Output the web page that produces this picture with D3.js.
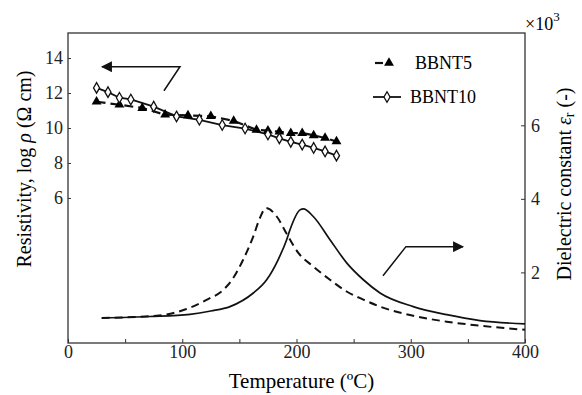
<!DOCTYPE html>
<html>
<head>
<meta charset="utf-8">
<script src="https://cdn.jsdelivr.net/npm/d3@7"></script>
<style>
  body { margin: 0; background: #fff; }
  svg, svg text { font-family: "Liberation Serif", "DejaVu Serif", serif; }
  .axis text { font-size: 18px; fill: #222; }
  .axis path, .axis line { stroke: #333; }
</style>
</head>
<body>
<div id="chart"></div>
<script>
// resistivity (left axis, log rho)
var bbnt5T   = [25, 45, 65, 85, 105, 125, 145, 165, 175, 185, 195, 205, 215, 225, 235];
var bbnt5Rho = [11.50, 11.33, 11.14, 10.76, 10.72, 10.67, 10.41, 9.89, 9.85, 9.79, 9.71, 9.71, 9.58, 9.43, 9.23];
var bbnt10T   = [25, 35, 45, 55, 75, 95, 115, 135, 155, 175, 185, 195, 205, 215, 225, 235];
var bbnt10Rho = [12.29, 12.05, 11.73, 11.63, 11.22, 10.66, 10.47, 10.17, 9.97, 9.63, 9.41, 9.21, 9.05, 8.86, 8.66, 8.42];

// dielectric constant (right axis, x10^3)
var epsT5  = [29.5, 77.6, 102.4, 121.7, 136.5, 145.3, 153.4, 162.2, 168, 173.3, 182.7, 191.4, 201.6, 214.7, 229.3, 243.9, 258.5, 273.1, 302.2, 331.5, 360.6, 400];
var eps5   = [0.76, 0.82, 0.99, 1.26, 1.54, 1.88, 2.35, 2.98, 3.48, 3.75, 3.52, 3.05, 2.53, 2.16, 1.80, 1.48, 1.26, 1.07, 0.82, 0.66, 0.55, 0.44];
var epsT10 = [29.5, 71.8, 106.8, 125, 141.8, 162.2, 173.9, 184, 191.4, 194.3, 203.1, 206, 214.7, 229.3, 243.9, 258.5, 273.1, 302.2, 331.5, 360.6, 400];
var eps10  = [0.76, 0.80, 0.86, 0.95, 1.07, 1.44, 1.80, 2.35, 2.89, 3.16, 3.70, 3.73, 3.52, 2.89, 2.26, 1.80, 1.44, 1.07, 0.85, 0.69, 0.60];

var xTicks = [0, 50, 100, 150, 200, 250, 300, 350, 400];
var xLabels = [0, 100, 200, 300, 400];
var leftTicks = [6, 8, 10, 12, 14];
var rightTicks = [2, 4, 6];

var width = 582, height = 395;
var margin = {top: 33, right: 57, bottom: 52, left: 68};
var serif = "'Liberation Serif', 'DejaVu Serif', serif";

var svg = d3.select("#chart").append("svg")
    .attr("width", width)
    .attr("height", height)
    .attr("font-family", serif);

var x = d3.scaleLinear().domain([0, 400]).range([margin.left, width - margin.right]);
var yL = d3.scaleLinear().domain([-2.29, 15.43]).range([height - margin.bottom, margin.top]);
var yR = d3.scaleLinear().domain([0.08, 8.51]).range([height - margin.bottom, margin.top]);

function zip(a, b) { return a.map(function(d, i) { return [d, b[i]]; }); }

// frame
svg.append("rect")
    .attr("x", margin.left).attr("y", margin.top)
    .attr("width", width - margin.left - margin.right)
    .attr("height", height - margin.top - margin.bottom)
    .attr("fill", "none").attr("stroke", "#333").attr("stroke-width", 1.3);

// x axis: inward ticks every 50, labels every 100
var xAxis = svg.append("g").attr("class", "axis")
    .attr("transform", "translate(0," + (height - margin.bottom) + ")")
    .call(d3.axisBottom(x).tickValues(xTicks).tickSizeInner(-4).tickSizeOuter(0)
        .tickFormat(function(d) { return xLabels.indexOf(d) >= 0 ? d : ""; }));
xAxis.select(".domain").remove();
xAxis.selectAll("text").attr("dy", "0.3em").attr("y", 10);

var lAxis = svg.append("g").attr("class", "axis")
    .attr("transform", "translate(" + margin.left + ",0)")
    .call(d3.axisLeft(yL).tickValues(leftTicks).tickSizeInner(-3).tickSizeOuter(0));
lAxis.select(".domain").remove();
lAxis.selectAll("text").attr("x", -5);

var rAxis = svg.append("g").attr("class", "axis")
    .attr("transform", "translate(" + (width - margin.right) + ",0)")
    .call(d3.axisRight(yR).tickValues(rightTicks).tickSizeInner(-4).tickSizeOuter(0));
rAxis.select(".domain").remove();
rAxis.selectAll("text").attr("x", 6);

svg.selectAll(".axis").attr("font-family", serif).attr("font-size", 18);

// axis titles
svg.append("text")
    .attr("x", (margin.left + width - margin.right) / 2 + 5)
    .attr("y", 388)
    .attr("text-anchor", "middle")
    .style("font-size", "21px")
    .text("Temperature (ºC)");

var lt = svg.append("text")
    .attr("transform", "translate(26," + 169 + ") rotate(-90)")
    .attr("text-anchor", "middle")
    .attr("dominant-baseline", "middle")
    .style("font-size", "20px");
lt.append("tspan").text("Resistivity, log ");
lt.append("tspan").style("font-style", "italic").text("ρ");
lt.append("tspan").text(" (Ω cm)");

var rt = svg.append("text")
    .attr("transform", "translate(566," + 184 + ") rotate(-90)")
    .attr("text-anchor", "middle")
    .attr("dominant-baseline", "middle")
    .style("font-size", "20px");
rt.append("tspan").text("Dielectric constant ");
rt.append("tspan").style("font-style", "italic").text("ε");
rt.append("tspan").attr("dy", 5).style("font-size", "14px").text("r");
rt.append("tspan").attr("dy", -5).text(" (-)");

var mult = svg.append("text").attr("x", 525).attr("y", 30).style("font-size", "18px");
mult.append("tspan").text("×10");
mult.append("tspan").attr("dy", -9).style("font-size", "13px").text("3");

// dielectric curves
var lineR = d3.line().x(function(d) { return x(d[0]); }).y(function(d) { return yR(d[1]); })
    .curve(d3.curveMonotoneX);

svg.append("path").datum(zip(epsT5, eps5))
    .attr("d", lineR).attr("fill", "none").attr("stroke", "#111")
    .attr("stroke-width", 2).attr("stroke-dasharray", "8,5");

svg.append("path").datum(zip(epsT10, eps10))
    .attr("d", lineR).attr("fill", "none").attr("stroke", "#111")
    .attr("stroke-width", 1.7);

// resistivity lines + markers
var lineL = d3.line().x(function(d) { return x(d[0]); }).y(function(d) { return yL(d[1]); });

svg.append("path").datum(zip(bbnt10T, bbnt10Rho))
    .attr("d", lineL).attr("fill", "none").attr("stroke", "#111").attr("stroke-width", 1.8);

svg.append("path").datum(zip(bbnt5T, bbnt5Rho))
    .attr("d", lineL).attr("fill", "none").attr("stroke", "#111")
    .attr("stroke-width", 2.2).attr("stroke-dasharray", "9,5");

var tri = d3.symbol().type(d3.symbolTriangle).size(42);
var dia = d3.symbol().type(d3.symbolDiamond).size(32);

svg.selectAll(".tri").data(zip(bbnt5T, bbnt5Rho)).enter().append("path")
    .attr("class", "tri")
    .attr("transform", function(d) { return "translate(" + x(d[0]) + "," + yL(d[1]) + ")"; })
    .attr("d", tri).attr("fill", "#000");

svg.selectAll(".dia").data(zip(bbnt10T, bbnt10Rho)).enter().append("path")
    .attr("class", "dia")
    .attr("transform", function(d) { return "translate(" + x(d[0]) + "," + yL(d[1]) + ")"; })
    .attr("d", dia).attr("fill", "#fff").attr("stroke", "#111").attr("stroke-width", 1.3);

// legend
var leg = svg.append("g");
leg.append("line").attr("x1", 375).attr("x2", 383).attr("y1", 63).attr("y2", 63)
    .attr("stroke", "#111").attr("stroke-width", 2.2);
leg.append("path").attr("transform", "translate(389,63)").attr("d", tri).attr("fill", "#000");
leg.append("text").attr("x", 415).attr("y", 69).style("font-size", "18px").text("BBNT5");
leg.append("line").attr("x1", 373).attr("x2", 401).attr("y1", 97).attr("y2", 97)
    .attr("stroke", "#111").attr("stroke-width", 1.8);
leg.append("path").attr("transform", "translate(387,97)").attr("d", dia)
    .attr("fill", "#fff").attr("stroke", "#111").attr("stroke-width", 1.3);
leg.append("text").attr("x", 410).attr("y", 103).style("font-size", "18px").text("BBNT10");

// annotation arrows (in data units)
svg.append("defs").append("marker")
    .attr("id", "ah").attr("viewBox", "0 0 10 10").attr("refX", 9).attr("refY", 5)
    .attr("markerWidth", 16).attr("markerHeight", 11).attr("markerUnits", "userSpaceOnUse")
    .attr("orient", "auto")
    .append("path").attr("d", "M0,0L10,5L0,10Z").attr("fill", "#111");

var arrowL = [[84, 12.13], [98, 13.5], [29.8, 13.5]];
var arrowR = [[275.7, 1.91], [295.8, 2.7], [345.7, 2.7]];

svg.append("path")
    .attr("d", d3.line().x(function(d) { return x(d[0]); }).y(function(d) { return yL(d[1]); })(arrowL))
    .attr("fill", "none").attr("stroke", "#111").attr("stroke-width", 1.5)
    .attr("marker-end", "url(#ah)");

svg.append("path")
    .attr("d", d3.line().x(function(d) { return x(d[0]); }).y(function(d) { return yR(d[1]); })(arrowR))
    .attr("fill", "none").attr("stroke", "#111").attr("stroke-width", 1.5)
    .attr("marker-end", "url(#ah)");
</script>
</body>
</html>
